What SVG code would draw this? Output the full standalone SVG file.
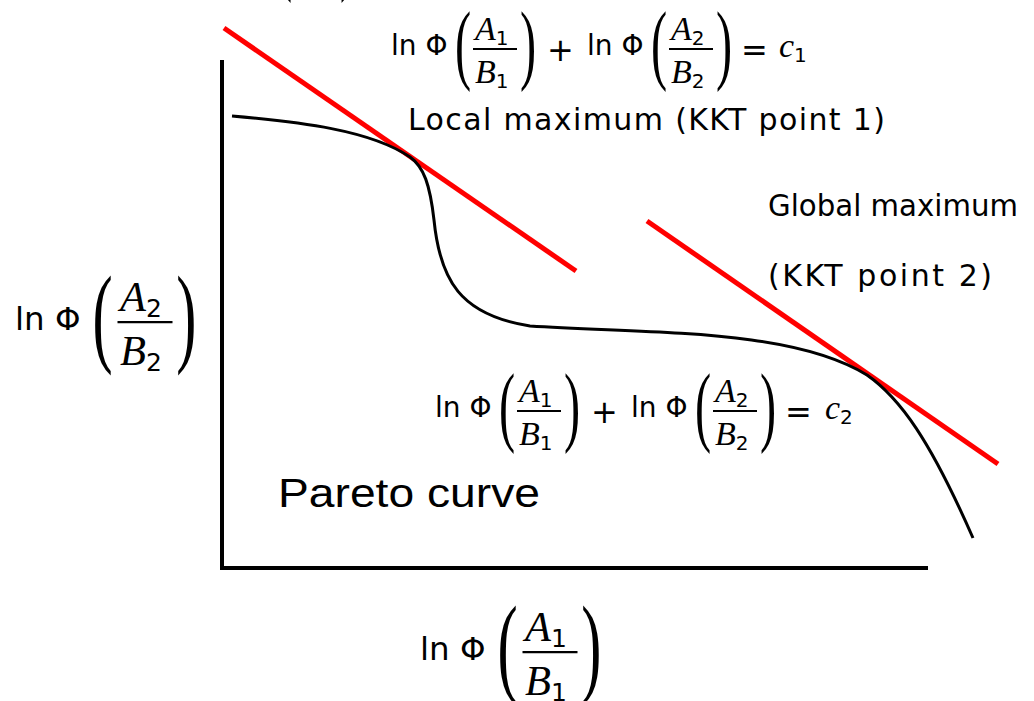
<svg xmlns="http://www.w3.org/2000/svg" width="1034" height="701" viewBox="0 0 1034 701">
<style>
.sans{font-family:"DejaVu Sans","Liberation Sans",sans-serif;fill:#000}
.it{font-family:"Liberation Serif","DejaVu Serif",serif;font-style:italic;font-size:34px;fill:#000}
.par{font-family:"Liberation Serif","DejaVu Serif",serif;font-size:88px;fill:#000}
.sub{font-family:"DejaVu Sans","Liberation Sans",sans-serif;font-size:20px;font-style:normal}
.bar{stroke:#000;stroke-width:1.8}
.axis{stroke:#000;stroke-width:4;fill:none}
.red{stroke:#ff0000;stroke-width:5;fill:none}
.curve{stroke:#000;stroke-width:3;fill:none}
.lbl{font-family:"DejaVu Sans","Liberation Sans",sans-serif;font-size:30px;fill:#000}
</style>
<rect width="1034" height="701" fill="#fff"/>

<g id="clipped-top">
<text class="par" transform="translate(276,-16) scale(0.55,1)">(</text>
<text class="par" transform="translate(340,-16) scale(0.55,1)">)</text>
</g>

<g id="axes">
<line class="axis" x1="222" y1="60" x2="222" y2="570"/>
<line class="axis" x1="220" y1="568" x2="928" y2="568"/>
</g>

<g id="connectors">
<line class="red" x1="224" y1="28" x2="576" y2="271"/>
<line class="red" x1="647" y1="221" x2="998" y2="464"/>
<path id="pareto" class="curve" d="M232,116 C300,122 370,130 410,157 C424,167 430,185 434,220 C440,280 460,315 530,326 C650,334 790,328 867,375 C900,398 930,440 973,538"/>
</g>

<g id="formula-c1" transform="translate(391,49)">
<text class="sans" x="0" y="6" font-size="28">ln Φ</text>
<text class="par" transform="translate(64,24) scale(0.55,1)">(</text>
<text class="it" x="84" y="-9">A<tspan class="sub" dy="5">1</tspan></text>
<line class="bar" x1="82" y1="0" x2="126" y2="0"/>
<text class="it" x="84" y="34">B<tspan class="sub" dy="5">1</tspan></text>
<text class="par" transform="translate(129,24) scale(0.55,1)">)</text>
<text class="sans" x="156" y="12" font-size="32">+</text>
<text class="sans" x="196" y="6" font-size="28">ln Φ</text>
<text class="par" transform="translate(260,24) scale(0.55,1)">(</text>
<text class="it" x="280" y="-9">A<tspan class="sub" dy="5">2</tspan></text>
<line class="bar" x1="278" y1="0" x2="322" y2="0"/>
<text class="it" x="280" y="34">B<tspan class="sub" dy="5">2</tspan></text>
<text class="par" transform="translate(325,24) scale(0.55,1)">)</text>
<text class="sans" x="350" y="12" font-size="32">=</text>
<text class="it" x="388" y="8">c<tspan class="sub" dy="5">1</tspan></text>
</g>

<g id="formula-c2" transform="translate(435,411)">
<text class="sans" x="0" y="6" font-size="28">ln Φ</text>
<text class="par" transform="translate(64,24) scale(0.55,1)">(</text>
<text class="it" x="84" y="-9">A<tspan class="sub" dy="5">1</tspan></text>
<line class="bar" x1="82" y1="0" x2="126" y2="0"/>
<text class="it" x="84" y="34">B<tspan class="sub" dy="5">1</tspan></text>
<text class="par" transform="translate(129,24) scale(0.55,1)">)</text>
<text class="sans" x="156" y="12" font-size="32">+</text>
<text class="sans" x="196" y="6" font-size="28">ln Φ</text>
<text class="par" transform="translate(260,24) scale(0.55,1)">(</text>
<text class="it" x="280" y="-9">A<tspan class="sub" dy="5">2</tspan></text>
<line class="bar" x1="278" y1="0" x2="322" y2="0"/>
<text class="it" x="280" y="34">B<tspan class="sub" dy="5">2</tspan></text>
<text class="par" transform="translate(325,24) scale(0.55,1)">)</text>
<text class="sans" x="350" y="12" font-size="32">=</text>
<text class="it" x="390" y="8">c<tspan class="sub" dy="5">2</tspan></text>
</g>

<g id="y-label" transform="translate(15,322) scale(1.25)">
<text class="sans" x="0" y="6" font-size="26">ln Φ</text>
<text class="par" transform="translate(62,24) scale(0.55,1)">(</text>
<text class="it" x="84" y="-9">A<tspan class="sub" dy="5">2</tspan></text>
<line class="bar" x1="82" y1="0" x2="126" y2="0"/>
<text class="it" x="84" y="34">B<tspan class="sub" dy="5">2</tspan></text>
<text class="par" transform="translate(129,24) scale(0.55,1)">)</text>
</g>

<g id="x-label" transform="translate(420,652) scale(1.25)">
<text class="sans" x="0" y="6" font-size="26">ln Φ</text>
<text class="par" transform="translate(62,24) scale(0.55,1)">(</text>
<text class="it" x="84" y="-9">A<tspan class="sub" dy="5">1</tspan></text>
<line class="bar" x1="82" y1="0" x2="126" y2="0"/>
<text class="it" x="84" y="34">B<tspan class="sub" dy="5">1</tspan></text>
<text class="par" transform="translate(129,24) scale(0.55,1)">)</text>
</g>

<g id="local-max">
<text class="lbl" x="408" y="130" textLength="477" lengthAdjust="spacing">Local maximum (KKT point 1)</text>
</g>
<g id="global-max">
<text class="lbl" x="768" y="216" textLength="250" lengthAdjust="spacingAndGlyphs">Global maximum</text>
<text class="lbl" x="768" y="286" textLength="224" lengthAdjust="spacing">(KKT point 2)</text>
</g>
<g id="pareto-label">
<text x="278" y="507" font-family="Liberation Sans, Arial, sans-serif" font-size="40" textLength="262" lengthAdjust="spacingAndGlyphs">Pareto curve</text>
</g>
</svg>
